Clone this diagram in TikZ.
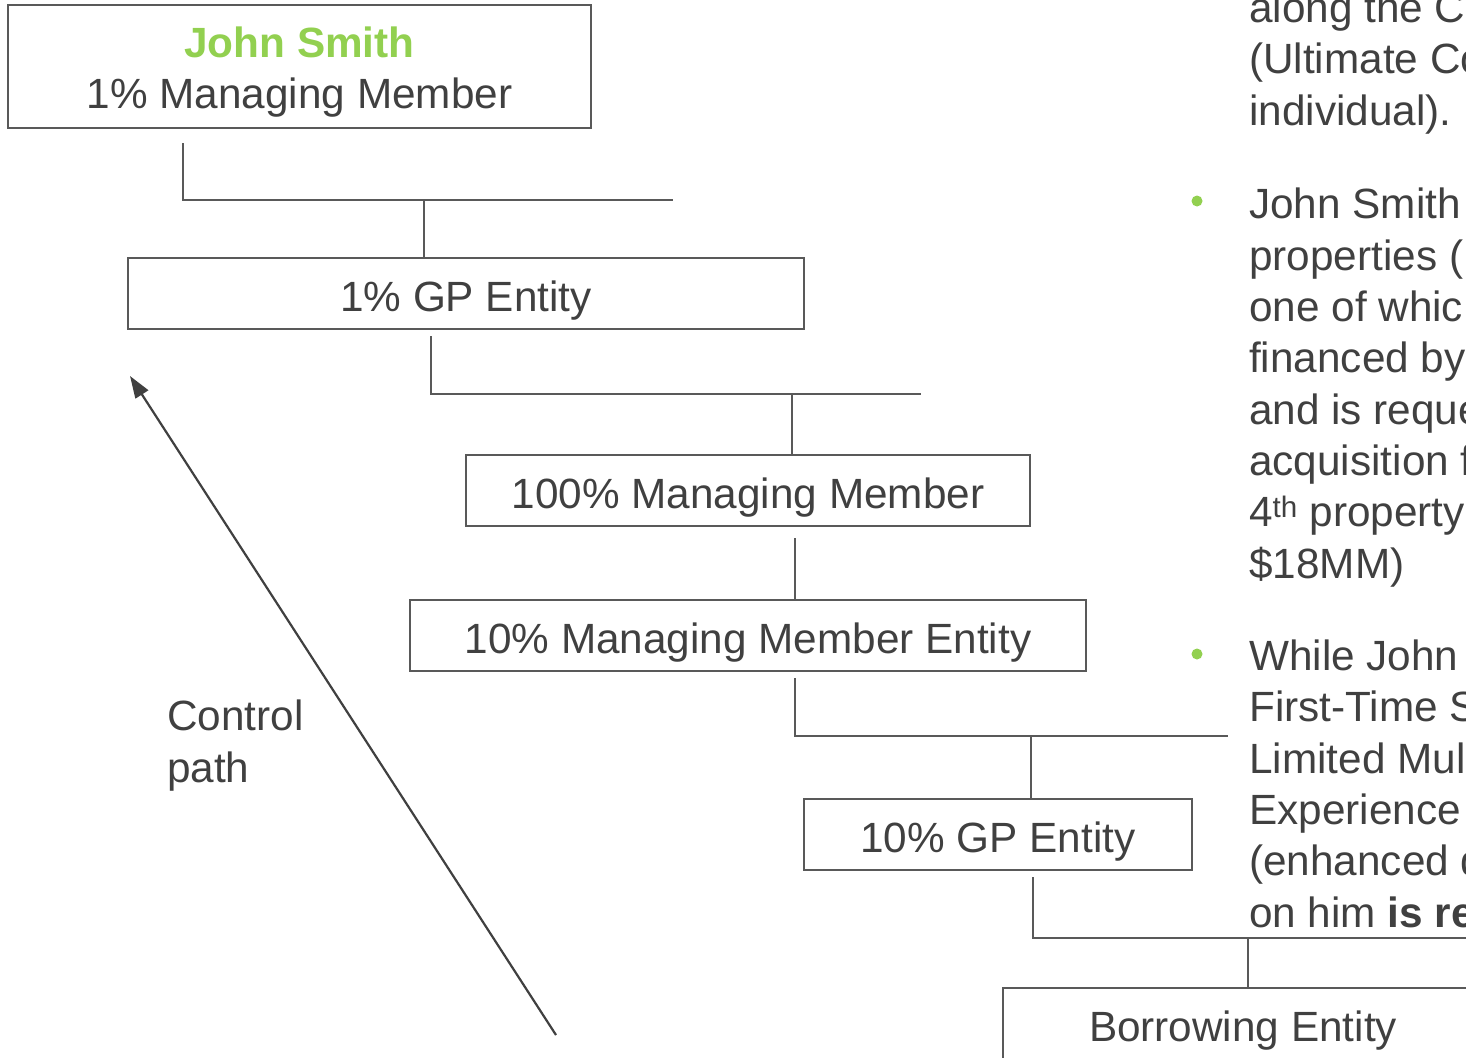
\documentclass[tikz,border=0pt]{standalone}
\usepackage{fontspec}
\setmainfont{Liberation Sans}
\usetikzlibrary{arrows.meta,positioning}

\definecolor{txtgray}{HTML}{404040}
\definecolor{linegray}{HTML}{595959}
\definecolor{jsgreen}{HTML}{92D050}

\newcommand{\bigtext}{\fontsize{42.3}{51.3}\selectfont}

\tikzset{
  entity/.style={draw=linegray, line width=1.8pt, rectangle, inner sep=0pt,
    minimum height=71pt, text=txtgray, font=\bigtext,
    text height=35pt, text depth=0pt},
  link/.style={draw=linegray, line width=1.4pt},
  ctrlarrow/.style={draw=txtgray, line width=2.2pt, -{Triangle[length=22pt,width=15pt]}},
  notes/.style={text=txtgray, font=\bigtext, align=left, inner sep=0pt, anchor=base west},
  dot/.style={circle, fill=jsgreen, inner sep=0pt, minimum size=11pt}
}

\begin{document}
\begin{tikzpicture}[x=1pt,y=-1pt]
  \useasboundingbox (0,0) rectangle (1466,1057);

  % Entities
  \node[entity, minimum width=583pt, minimum height=123pt, align=center,
        text height=, text depth=] (js) at (299.5,66.5)
        {\rule{0pt}{42pt}\textcolor{jsgreen}{\bfseries John Smith}\\1\% Managing Member};
  \node[entity, minimum width=676pt] (gp1)   at (466,293.5)  {1\% GP Entity};
  \node[entity, minimum width=564pt] (mm100) at (748,490.5)  {100\% Managing Member};
  \node[entity, minimum width=676pt] (mme10) at (748,635.5)  {10\% Managing Member Entity};
  \node[entity, minimum width=388pt] (gp10)  at (998,834.5)  {10\% GP Entity};
  \node[entity, minimum width=480pt] (bor)   at (1243,1023.5) {Borrowing Entity};

  % Connectors
  \coordinate (js-out) at (183,143);
  \coordinate (bus1) at (424,200);
  \coordinate (bus1-end) at (673,200);
  \draw[link] (js-out) |- (bus1-end);
  \draw[link] (bus1) -- (bus1 |- gp1.north);

  \coordinate (gp1-out) at (431,336);
  \coordinate (bus2) at (792,394);
  \coordinate (bus2-end) at (921,394);
  \draw[link] (gp1-out) |- (bus2-end);
  \draw[link] (bus2) -- (bus2 |- mm100.north);

  \coordinate (mm100-out) at (795,538);
  \draw[link] (mm100-out) -- (mm100-out |- mme10.north);

  \coordinate (mme10-out) at (795,678);
  \coordinate (bus4) at (1031,736);
  \coordinate (bus4-end) at (1228,736);
  \draw[link] (mme10-out) |- (bus4-end);
  \draw[link] (bus4) -- (bus4 |- gp10.north);

  \coordinate (gp10-out) at (1033,877);
  \coordinate (bus5) at (1248,938);
  \coordinate (bus5-end) at (1480,938);
  \draw[link] (gp10-out) |- (bus5-end);
  \draw[link] (bus5) -- (bus5 |- bor.north);

  % Control path
  \coordinate (arrow-tail) at (556,1035);
  \coordinate (arrow-head) at (130,376);
  \draw[ctrlarrow] (arrow-tail) -- (arrow-head);
  \node[notes] (ctrl) at (167,782) {Control\\path};

  % Notes on the right
  \node[notes] (note0) at (1249,125) {along the C\\(Ultimate Co\\individual).};
  \node[dot] (dot1) at (1197,201) {};
  \node[notes] (note1) at (1249,578) {John Smith\\properties (\\one of whic\\financed by\\and is reque\\acquisition f\\4\textsuperscript{th} property\\\$18MM)};
  \node[dot] (dot2) at (1197,654) {};
  \node[notes] (note2) at (1249,927) {While John\\First-Time S\\Limited Mul\\Experience\\(enhanced d\\on him \textbf{is re}};
\end{tikzpicture}
\end{document}
